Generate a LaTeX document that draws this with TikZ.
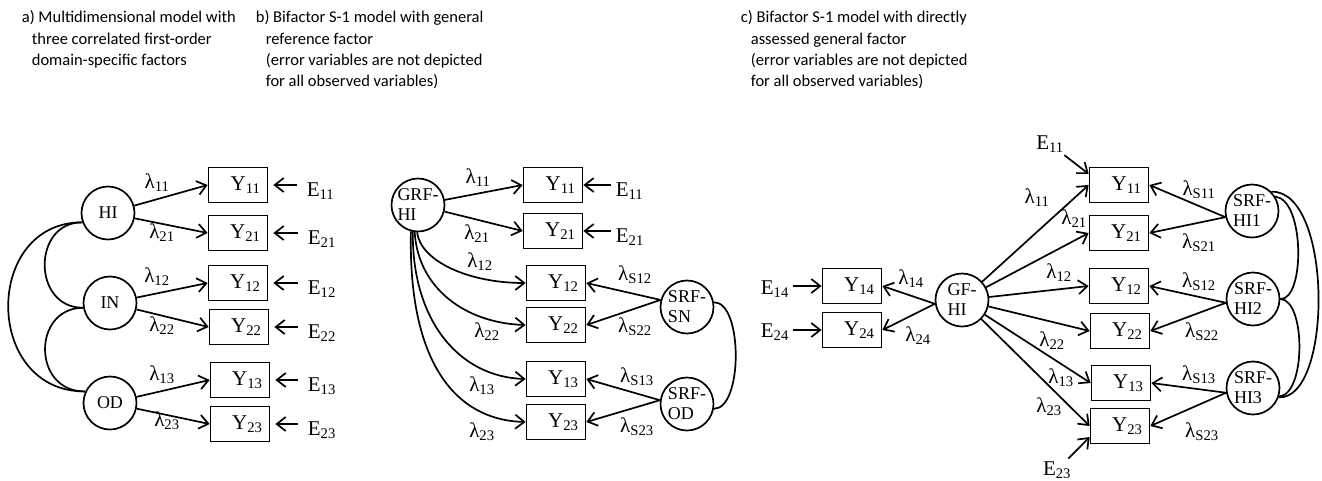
\documentclass[tikz,border=0pt]{standalone}
\usepackage{fontspec}
\setmainfont{Liberation Serif}
\newfontfamily\headfont{Carlito}
\usetikzlibrary{arrows.meta}

\begin{document}
\begin{tikzpicture}[x=1pt,y=-1pt,line width=1.7pt,>={Straight Barb[length=9pt,width=14pt]},
  font=\fontsize{21}{25}\selectfont,
  obs/.style={draw,minimum width=59pt,minimum height=35pt,inner xsep=7pt,text width=45pt,align=right},
  fac/.style={draw,circle,minimum size=53pt,inner sep=0pt,align=left,font=\fontsize{18}{20}\selectfont},
  lab/.style={inner sep=0pt},
  headline/.style={anchor=north west,inner sep=0pt,align=left,font=\headfont\fontsize{16.5}{21.3}\selectfont}]

\def\ind{\hspace*{10pt}}

\useasboundingbox (0,0) rectangle (1322,480);

\node[headline] (ha) at (21,10) {a) Multidimensional model with\\\ind three correlated first-order\\\ind domain-specific factors};
\node[headline] (hb) at (255,10) {b) Bifactor S-1 model with general\\\ind reference factor\\\ind (error variables are not depicted\\\ind for all observed variables)};
\node[headline] (hc) at (740,10) {c) Bifactor S-1 model with directly\\\ind assessed general factor\\\ind (error variables are not depicted\\\ind for all observed variables)};

\node[fac] (HI) at (108,213) {HI};
\node[fac] (IN) at (110,303) {IN};
\node[fac] (OD) at (110,403) {OD};

\node[obs] (a11) at (238,185) {Y\textsubscript{11}};
\node[obs] (a21) at (238,233) {Y\textsubscript{21}};
\node[obs] (a12) at (238,283) {Y\textsubscript{12}};
\node[obs] (a22) at (239,327) {Y\textsubscript{22}};
\node[obs] (a13) at (240,380) {Y\textsubscript{13}};
\node[obs] (a23) at (240,424) {Y\textsubscript{23}};

\node[lab,anchor=base west] (ea11) at (306,196) {E\textsubscript{11}};
\node[lab,anchor=base west] (ea21) at (307,244) {E\textsubscript{21}};
\node[lab,anchor=base west] (ea12) at (307,294) {E\textsubscript{12}};
\node[lab,anchor=base west] (ea22) at (307,338) {E\textsubscript{22}};
\node[lab,anchor=base west] (ea13) at (307,391) {E\textsubscript{13}};
\node[lab,anchor=base west] (ea23) at (307,435) {E\textsubscript{23}};

\node[lab] (la11) at (157,183) {λ\textsubscript{11}};
\node[lab] (la21) at (162,233) {λ\textsubscript{21}};
\node[lab] (la12) at (157,277) {λ\textsubscript{12}};
\node[lab] (la22) at (162,326) {λ\textsubscript{22}};
\node[lab] (la13) at (162,375) {λ\textsubscript{13}};
\node[lab] (la23) at (167,421) {λ\textsubscript{23}};

\draw[->] (HI) -- (a11.west);
\draw[->] (HI) -- (a21.west);
\draw[->] (IN) -- (a12.west);
\draw[->] (IN) -- (a22.west);
\draw[->] (OD) -- (a13.west);
\draw[->] (OD) -- (a23.west);

\draw[<-,shorten <=5pt,shorten >=9pt] (a11.east) -- (a11.east -| ea11.west);
\draw[<-,shorten <=5pt,shorten >=9pt] (a21.east) -- (a21.east -| ea21.west);
\draw[<-,shorten <=5pt,shorten >=9pt] (a12.east) -- (a12.east -| ea12.west);
\draw[<-,shorten <=5pt,shorten >=9pt] (a22.east) -- (a22.east -| ea22.west);
\draw[<-,shorten <=5pt,shorten >=9pt] (a13.east) -- (a13.east -| ea13.west);
\draw[<-,shorten <=5pt,shorten >=9pt] (a23.east) -- (a23.east -| ea23.west);

\draw (HI.200) .. controls (32,222) and (32,308) .. (IN.190);
\draw (IN.190) .. controls (32,308) and (32,392) .. (OD.155);
\draw (HI.200) .. controls (-17,222) and (-17,392) .. (OD.155);

\node[fac] (GRF) at (418,205) {GRF-\\HI};
\node[fac] (SN) at (687,307) {SRF-\\SN};
\node[fac] (SOD) at (687,404) {SRF-\\OD};

\node[obs] (b11) at (553,185) {Y\textsubscript{11}};
\node[obs] (b21) at (553,231) {Y\textsubscript{21}};
\node[obs] (b12) at (556,283) {Y\textsubscript{12}};
\node[obs] (b22) at (556,325) {Y\textsubscript{22}};
\node[obs] (b13) at (556,379) {Y\textsubscript{13}};
\node[obs] (b23) at (556,422) {Y\textsubscript{23}};

\node[lab,anchor=base west] (eb11) at (615,196) {E\textsubscript{11}};
\node[lab,anchor=base west] (eb21) at (615,242) {E\textsubscript{21}};

\node[lab] (lb11) at (478,178) {λ\textsubscript{11}};
\node[lab] (lb21) at (477,234) {λ\textsubscript{21}};
\node[lab] (lb12) at (480,262) {λ\textsubscript{12}};
\node[lab] (lb22) at (487,332) {λ\textsubscript{22}};
\node[lab] (lb13) at (482,386) {λ\textsubscript{13}};
\node[lab] (lb23) at (482,432) {λ\textsubscript{23}};
\node[lab] (lbs12) at (635,275) {λ\textsubscript{S12}};
\node[lab] (lbs22) at (635,327) {λ\textsubscript{S22}};
\node[lab] (lbs13) at (637,377) {λ\textsubscript{S13}};
\node[lab] (lbs23) at (637,427) {λ\textsubscript{S23}};

\draw[->] (GRF) -- (b11.west);
\draw[->] (GRF) -- (b21.west);
\draw[->] (GRF.268) .. controls (421,262) and (470,283) .. (b12.west);
\draw[->] (GRF.263) .. controls (418,288) and (465,323) .. (b22.west);
\draw[->] (GRF.259) .. controls (412,322) and (460,377) .. (b13.west);
\draw[->] (GRF.255) .. controls (408,362) and (455,420) .. (b23.west);

\draw[->] (SN.165) -- (b12.east);
\draw[->] (SN.165) -- (b22.east);
\draw[->] (SOD.172) -- (b13.east);
\draw[->] (SOD.172) -- (b23.east);

\draw[<-,shorten >=4pt] (b11.east) -- (b11.east -| eb11.west);
\draw[<-,shorten >=4pt] (b21.east) -- (b21.east -| eb21.west);

\draw (SN.10) .. controls (743,302) and (743,409) .. (SOD.350);

\node[fac] (GF) at (962,300) {GF-\\HI};
\node[fac] (S1) at (1252,211) {SRF-\\HI1};
\node[fac] (S2) at (1253,299) {SRF-\\HI2};
\node[fac] (S3) at (1253,388) {SRF-\\HI3};

\node[obs] (c14) at (852,286) {Y\textsubscript{14}};
\node[obs] (c24) at (852,330) {Y\textsubscript{24}};
\node[obs] (c11) at (1119,185) {Y\textsubscript{11}};
\node[obs] (c21) at (1119,233) {Y\textsubscript{21}};
\node[obs] (c12) at (1119,286) {Y\textsubscript{12}};
\node[obs] (c22) at (1120,331) {Y\textsubscript{22}};
\node[obs] (c13) at (1121,383) {Y\textsubscript{13}};
\node[obs] (c23) at (1120,426) {Y\textsubscript{23}};

\node[lab,anchor=base west] (ec14) at (760,294) {E\textsubscript{14}};
\node[lab,anchor=base west] (ec24) at (760,337) {E\textsubscript{24}};
\node[lab] (ec11) at (1050,144) {E\textsubscript{11}};
\node[lab] (ec23) at (1057,470) {E\textsubscript{23}};

\node[lab] (lc14) at (911,279) {λ\textsubscript{14}};
\node[lab] (lc24) at (918,336) {λ\textsubscript{24}};
\node[lab] (lc11) at (1037,198) {λ\textsubscript{11}};
\node[lab] (lc21) at (1074,219) {λ\textsubscript{21}};
\node[lab] (lc12) at (1059,273) {λ\textsubscript{12}};
\node[lab] (lc22) at (1052,341) {λ\textsubscript{22}};
\node[lab] (lc13) at (1061,378) {λ\textsubscript{13}};
\node[lab] (lc23) at (1049,407) {λ\textsubscript{23}};
\node[lab] (lcs11) at (1199,190) {λ\textsubscript{S11}};
\node[lab] (lcs21) at (1199,243) {λ\textsubscript{S21}};
\node[lab] (lcs12) at (1199,282) {λ\textsubscript{S12}};
\node[lab] (lcs22) at (1202,332) {λ\textsubscript{S22}};
\node[lab] (lcs13) at (1199,375) {λ\textsubscript{S13}};
\node[lab] (lcs23) at (1202,432) {λ\textsubscript{S23}};

\draw[->] (GF.188) -- (c14.east);
\draw[->] (GF.188) -- (c24.east);
\draw[->,shorten <=3pt] (c14.west -| ec14.east) -- (c14.west);
\draw[->,shorten <=3pt] (c24.west -| ec24.east) -- (c24.west);

\draw[->] (GF) -- (c11.west);
\draw[->] (GF) -- (c21.west);
\draw[->] (GF) -- (c12.west);
\draw[->] (GF) -- (c22.west);
\draw[->] (GF) -- (c13.west);
\draw[->] (GF) -- (c23.west);

\draw[->,shorten <=3pt] (ec11) -- (c11.160);
\draw[->,shorten <=3pt] (ec23) -- (c23.200);

\draw[->] (S1.193) -- (c11.east);
\draw[->] (S1.193) -- (c21.east);
\draw[->] (S2.188) -- (c12.east);
\draw[->] (S2.188) -- (c22.east);
\draw[->] (S3.190) -- (c13.east);
\draw[->] (S3.190) -- (c23.east);

\draw (S1.32) .. controls (1305,200) and (1305,300) .. (S2.0);
\draw (S2.0) .. controls (1306,300) and (1306,395) .. (S3.342);
\draw (S1.45) .. controls (1333,190) and (1333,400) .. (S3.340);

\end{tikzpicture}
\end{document}
